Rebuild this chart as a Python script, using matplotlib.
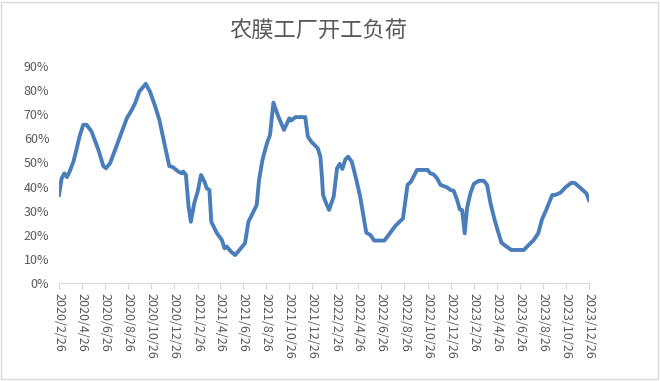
import matplotlib
matplotlib.use("Agg")
import matplotlib.pyplot as plt
from matplotlib.patches import Rectangle
from matplotlib.ticker import FuncFormatter
import pandas as pd

plt.rcParams['font.family'] = ['Noto Sans CJK SC', 'DejaVu Sans']

title = "农膜工厂开工负荷"

dates = [
    "2020-02-26", "2020-03-04", "2020-03-11", "2020-03-18", "2020-03-25", "2020-04-04",
    "2020-04-13", "2020-04-20", "2020-04-30", "2020-05-09", "2020-05-22", "2020-06-09",
    "2020-06-22", "2020-06-29", "2020-07-10", "2020-07-23", "2020-08-10", "2020-08-23",
    "2020-09-05", "2020-09-14", "2020-09-25", "2020-10-12", "2020-10-23", "2020-11-06",
    "2020-11-17", "2020-12-02", "2020-12-13", "2020-12-22", "2021-01-06", "2021-01-15",
    "2021-01-19", "2021-01-26", "2021-02-02", "2021-02-08", "2021-02-17", "2021-02-26",
    "2021-03-07", "2021-03-16", "2021-03-22", "2021-03-29", "2021-04-03", "2021-04-18",
    "2021-05-01", "2021-05-08", "2021-05-14", "2021-05-25", "2021-06-05", "2021-06-18",
    "2021-07-01", "2021-07-10", "2021-07-19", "2021-08-01", "2021-08-07", "2021-08-16",
    "2021-08-28", "2021-09-05", "2021-09-14", "2021-09-27", "2021-10-12", "2021-10-26",
    "2021-10-31", "2021-11-11", "2021-12-07", "2021-12-14", "2021-12-23", "2022-01-09",
    "2022-01-16", "2022-01-20", "2022-01-23", "2022-01-31", "2022-02-08", "2022-02-20",
    "2022-03-01", "2022-03-08", "2022-03-15", "2022-03-23", "2022-03-30", "2022-04-09",
    "2022-04-21", "2022-05-01", "2022-05-10", "2022-05-17", "2022-05-28", "2022-06-07",
    "2022-07-04", "2022-07-15", "2022-08-02", "2022-08-22", "2022-09-03", "2022-09-12",
    "2022-09-28", "2022-10-26", "2022-11-02", "2022-11-11", "2022-11-20", "2022-11-29",
    "2022-12-07", "2022-12-16", "2022-12-25", "2023-01-03", "2023-01-12", "2023-01-19",
    "2023-01-25", "2023-02-01", "2023-02-07", "2023-02-16", "2023-02-25", "2023-03-10",
    "2023-03-23", "2023-04-01", "2023-04-10", "2023-04-21", "2023-04-30", "2023-05-09",
    "2023-05-19", "2023-06-04", "2023-07-07", "2023-07-20", "2023-08-02", "2023-08-14",
    "2023-08-24", "2023-09-04", "2023-09-20", "2023-09-28", "2023-10-12", "2023-10-25",
    "2023-11-10", "2023-11-19", "2023-12-04", "2023-12-19", "2023-12-26",
]

load = [
    36.5, 43.4, 45.5, 43.9, 46.2, 50.3,
    55.9, 60.7, 65.6, 65.6, 62.8, 55.2,
    48.5, 47.6, 49.7, 55.2, 62.8, 68.3,
    71.8, 74.6, 79.4, 82.6, 79.4, 73.2,
    67.6, 56.6, 48.5, 48.1, 46.2, 45.5,
    46.2, 44.8, 31.7, 25.4, 33.1, 37.9,
    44.8, 42.0, 39.3, 38.6, 25.4, 20.6,
    17.8, 14.4, 15.1, 13.0, 11.6, 14.0,
    16.5, 25.4, 28.2, 32.4, 42.7, 51.0,
    58.0, 61.4, 74.8, 69.0, 63.5, 68.3,
    67.4, 68.8, 68.8, 60.7, 58.6, 55.9,
    52.4, 44.1, 36.5, 33.1, 30.3, 35.8,
    47.6, 49.4, 47.3, 51.3, 52.4, 50.3,
    42.7, 35.8, 27.5, 20.9, 19.9, 17.6,
    17.6, 19.9, 23.7, 26.8, 40.7, 42.0,
    46.9, 46.9, 45.5, 45.0, 43.4, 40.7,
    40.2, 39.7, 38.6, 38.2, 34.4, 30.5,
    30.3, 20.6, 31.0, 37.2, 41.1, 42.4,
    42.4, 40.7, 33.1, 26.1, 21.3, 16.7,
    15.5, 13.7, 13.7, 15.8, 17.8, 20.6,
    26.4, 30.3, 36.5, 36.5, 37.5, 39.7,
    41.6, 41.4, 39.3, 37.2, 34.4,
]

tick_dates = pd.date_range("2020-02-26", periods=24, freq=pd.DateOffset(months=2))
tick_labels = [f"{d.year}/{d.month}/{d.day}" for d in tick_dates]

fig = plt.figure(figsize=(6.6, 3.81), dpi=100)
fig.patches.append(Rectangle((0.002, 0.004), 0.995, 0.992, transform=fig.transFigure,
                             fill=False, edgecolor="#d9d9d9", linewidth=1))
ax = fig.add_axes([0.0894, 0.2572, 0.803, 0.5696])

ax.plot(pd.to_datetime(dates), [v / 100 for v in load], color="#4a7ebb", linewidth=2.8,
        solid_joinstyle="round")

ax.set_ylim(0, 0.9)
ax.set_yticks([i / 10 for i in range(10)])
ax.yaxis.set_major_formatter(FuncFormatter(lambda v, p: f"{v * 100:.0f}%"))
ax.set_xlim(tick_dates[0], tick_dates[-1])
ax.set_xticks(tick_dates)
ax.set_xticklabels(tick_labels, rotation=270, ha="center", va="top")

for s in ["top", "right", "left"]:
    ax.spines[s].set_visible(False)
ax.spines["bottom"].set_color("#d9d9d9")
ax.tick_params(axis="y", length=0, pad=7, labelsize=9, labelcolor="#595959")
ax.tick_params(axis="x", length=4, width=0.8, color="#d9d9d9", pad=3, labelsize=9,
               labelcolor="#595959")

fig.text(0.483, 0.918, title, ha="center", va="center", fontsize=16, color="#595959",
         fontweight="light")

fig.savefig("out.png", dpi=100)
